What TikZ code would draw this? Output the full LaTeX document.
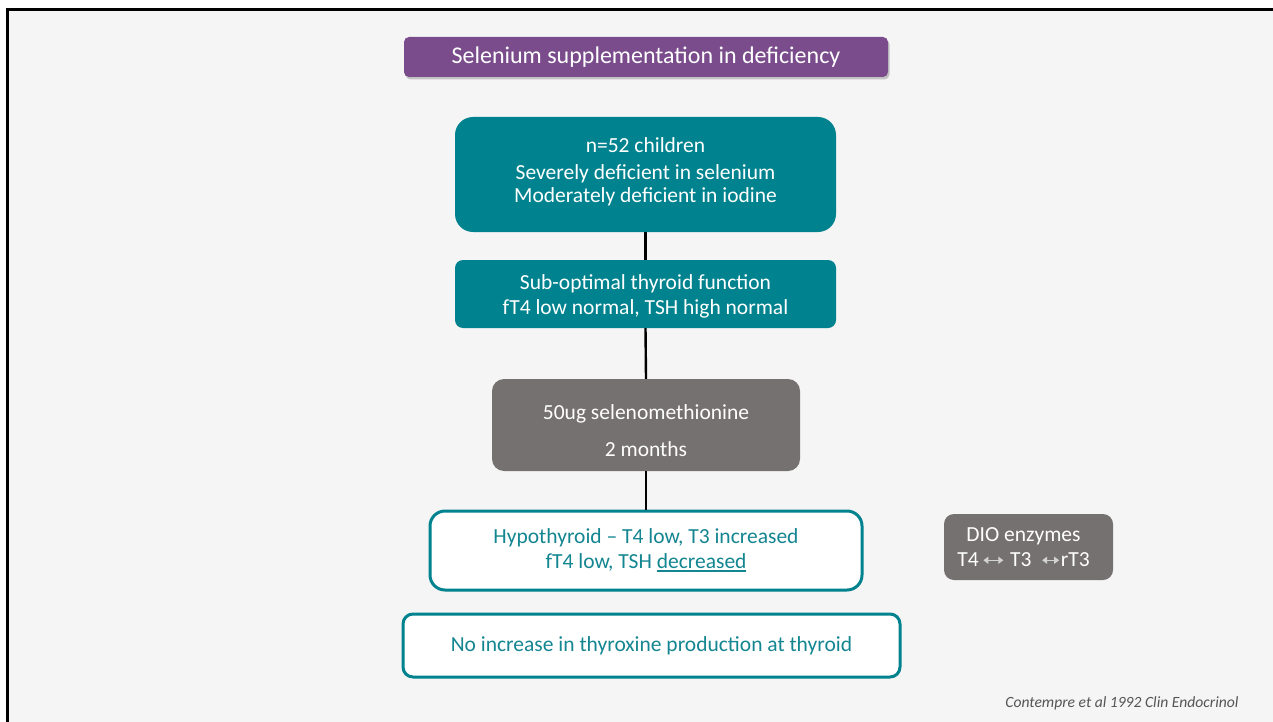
\documentclass[tikz,border=0pt]{standalone}
\usepackage{fontspec}
\setmainfont{Carlito}
\usetikzlibrary{shadows, arrows.meta}

\definecolor{teal}{RGB}{0,131,143}
\definecolor{tealtext}{RGB}{20,134,145}
\definecolor{plum}{RGB}{122,76,140}
\definecolor{slate}{RGB}{118,113,113}
\definecolor{canvas}{RGB}{245,245,245}
\definecolor{arrowgray}{RGB}{210,210,210}
\definecolor{citegray}{RGB}{85,85,85}

% thick underline drawn under a word
\newcommand\thickul[1]{\setbox0\hbox{#1}\leavevmode\rlap{\raisebox{-4pt}{\rule{\wd0}{2pt}}}\copy0}
% small two-headed conversion arrow
\newcommand\dioarr[1]{\tikz[baseline=-0.6ex]\draw[{Triangle[length=5pt,width=7pt]}-{Triangle[length=5pt,width=7pt]}, line width=1.4pt, arrowgray] (0pt,0pt) -- (#1,0pt);}

\tikzset{
  bodytext/.style={font=\fontsize{21.5}{25}\selectfont, align=center, inner sep=0pt},
  solidbox/.style={fill=teal, inner sep=0pt},
  greybox/.style={fill=slate, inner sep=0pt},
  outlinebox/.style={fill=white, draw=teal, line width=3pt, inner sep=0pt},
  whitetext/.style={bodytext, text=white},
  tealtext/.style={bodytext, text=tealtext},
  titlebox/.style={fill=plum, text=white, rounded corners=5pt, inner sep=0pt,
    font=\fontsize{24}{28}\selectfont,
    drop shadow={shadow xshift=1.5pt, shadow yshift=-2.5pt, opacity=0.35, fill=black!60}},
  conn/.style={line width=2.4pt, black},
}

\begin{document}
\begin{tikzpicture}[x=1pt, y=-1pt]
  \useasboundingbox (0,0) rectangle (1273,722);
  % slide canvas and its frame
  \fill[white] (0,0) rectangle (1273,722);
  \fill[canvas] (7,10) rectangle (1273,722);
  \draw[line width=3pt, black] (7,722) -- (7,10) -- (1273,10);

  \node[titlebox, minimum width=484pt, minimum height=40pt] (title) at (646,57)
    {Selenium supplementation in deficiency};

  % flow boxes
  \node[solidbox, rounded corners=18pt, minimum width=381pt, minimum height=115pt] (cohort) at (645.5,174.5) {};
  \node[solidbox, rounded corners=8pt, minimum width=381pt, minimum height=68pt] (baseline) at (645.5,294) {};
  \node[greybox, rounded corners=12pt, minimum width=308pt, minimum height=92pt] (dose) at (646,425) {};
  \node[outlinebox, rounded corners=15pt, minimum width=432pt, minimum height=79pt] (result) at (646,550.5) {};
  \node[outlinebox, rounded corners=10pt, minimum width=497pt, minimum height=63pt] (thyroid) at (651.5,645.5) {};
  \node[greybox, rounded corners=10pt, minimum width=169pt, minimum height=66pt] (dio) at (1028.5,547) {};

  % box texts
  \node[whitetext, yshift=3pt] (cohorttext) at (cohort.center)
    {n=52 children\\[2pt] Severely deficient in selenium\\[-2pt] Moderately deficient in iodine};
  \node[whitetext, yshift=-2pt] (baselinetext) at (baseline.center)
    {Sub-optimal thyroid function\\ fT4 low normal, TSH high normal};
  \node[whitetext, yshift=-5.5pt] (dosetext) at (dose.center)
    {50ug selenomethionine\\[12pt] 2 months};
  \node[tealtext] (resulttext) at (result.center)
    {Hypothyroid -- T4 low, T3 increased\\ fT4 low, TSH \thickul{decreased}};
  \node[tealtext] (thyroidtext) at (thyroid.center)
    {No increase in thyroxine production at thyroid};
  \node[whitetext, xshift=-5pt] (diotext) at (dio.center)
    {DIO enzymes\\ T4\hspace{4pt}\dioarr{20pt}\hspace{6pt}T3\hspace{10pt}\dioarr{17pt}\hspace{1pt}rT3};

  \draw[conn] (cohort.south) -- (baseline.north);
  \draw[conn] (baseline.south) -- (dose.north);
  \draw[conn] (dose.south) -- (result.north);

  \node[anchor=east, font=\fontsize{15.6}{18}\selectfont\itshape, text=citegray] (cite) at (1242,703)
    {Contempre et al 1992 Clin Endocrinol};
\end{tikzpicture}
\end{document}
